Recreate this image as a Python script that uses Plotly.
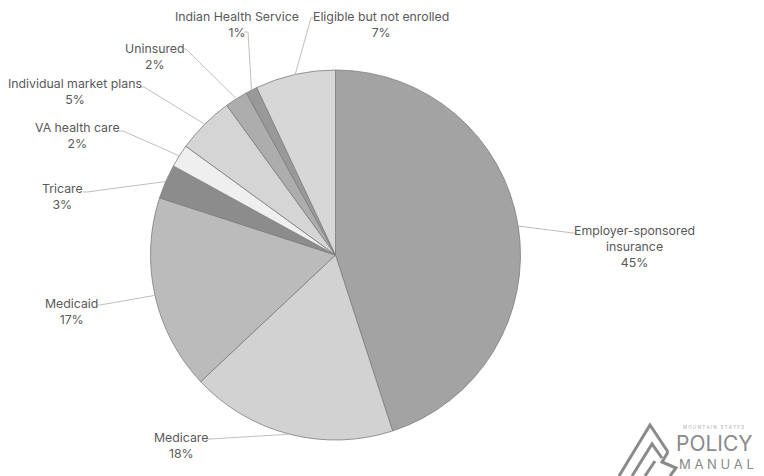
import math
import plotly.graph_objects as go

labels = ["Employer-sponsored<br>insurance", "Medicare", "Medicaid", "Tricare", "VA health care",
          "Individual market plans", "Uninsured", "Indian Health Service", "Eligible but not enrolled"]
values = [45, 18, 17, 3, 2, 5, 2, 1, 7]
colors = ["#a3a3a3", "#d2d2d2", "#bbbbbb", "#8c8c8c", "#efefef", "#d5d5d5", "#adadad", "#999999", "#d7d7d7"]

W, H = 764, 476
CX, CY, R = 335.5, 255.0, 185.0

# label text centre (px) and elbow point of leader (px)
label_pos = [(634, 246), (181, 445), (71, 311), (62, 196), (77, 135), (75, 91), (155, 56), (237, 24), (381, 24)]
elbow = [(573, 233), (210, 439), (100, 305), (87, 192), (123, 131), (144, 87), (186, 49), (248, 32), (311, 18)]

def px(x):
    return x / W

def py(y):
    return 1 - y / H

fig = go.Figure(go.Pie(
    labels=labels, values=values, sort=False, direction="clockwise", rotation=0,
    marker=dict(colors=colors, line=dict(color="#7d7d7d", width=0.8)),
    textinfo="none", hoverinfo="label+percent", showlegend=False,
    domain=dict(x=[px(CX - R), px(CX + R)], y=[py(CY + R), py(CY - R)]),
))

total = sum(values)
cum = 0
shapes = []
annotations = []
FONT = dict(family="Inter, Open Sans, sans-serif", size=12.3, color="#595959")
for lab, v, (tx, ty), (ex, ey) in zip(labels, values, label_pos, elbow):
    mid = (cum + v / 2) / total * 2 * math.pi
    cum += v
    sx = CX + R * math.sin(mid)
    sy = CY - R * math.cos(mid)
    tick = 4 if ex > sx else -4
    shapes.append(dict(type="path", xref="paper", yref="paper",
                       path=f"M {px(sx)},{py(sy)} L {px(ex)},{py(ey)} L {px(ex + tick)},{py(ey)}",
                       line=dict(color="#bfbfbf", width=1)))
    annotations.append(dict(x=px(tx), y=py(ty), xref="paper", yref="paper", showarrow=False,
                            xanchor="center", yanchor="middle",
                            text=f"{lab}<br>{v}%", align="center", font=FONT))

# logo
logo_col = "#8a8a8a"
logo_paths = ["M 619,476 L 650,425 L 668,452",
              "M 632,476 L 652,444 L 662,458",
              "M 645,476 L 655,461",
              "M 668,452 L 662,462 L 676,468 L 670,476"]
for path in logo_paths:
    out = []
    for p in path.split():
        if "," in p:
            a, b = p.split(",")
            out.append(f"{px(float(a))},{py(float(b))}")
        else:
            out.append(p)
    shapes.append(dict(type="path", xref="paper", yref="paper", path=" ".join(out),
                       line=dict(color=logo_col, width=3)))
annotations += [
    dict(x=px(713), y=py(427), xref="paper", yref="paper", showarrow=False, xanchor="center", yanchor="middle",
         text="M O U N T A I N   S T A T E S",
         font=dict(family="Inter, sans-serif", size=4.5, color="#aaaaaa")),
    dict(x=px(714), y=py(443), xref="paper", yref="paper", showarrow=False, xanchor="center", yanchor="middle",
         text="POLICY", font=dict(family="Inter, sans-serif", size=21, color=logo_col)),
    dict(x=px(716), y=py(464), xref="paper", yref="paper", showarrow=False, xanchor="center", yanchor="middle",
         text="M A N U A L", font=dict(family="Inter, sans-serif", size=13, color=logo_col)),
]

fig.update_layout(width=W, height=H, margin=dict(l=0, r=0, t=0, b=0),
                  paper_bgcolor="white", plot_bgcolor="white",
                  shapes=shapes, annotations=annotations)
fig.write_html("out.html", config={"displayModeBar": False},
               post_script="document.body.style.margin='0';")
